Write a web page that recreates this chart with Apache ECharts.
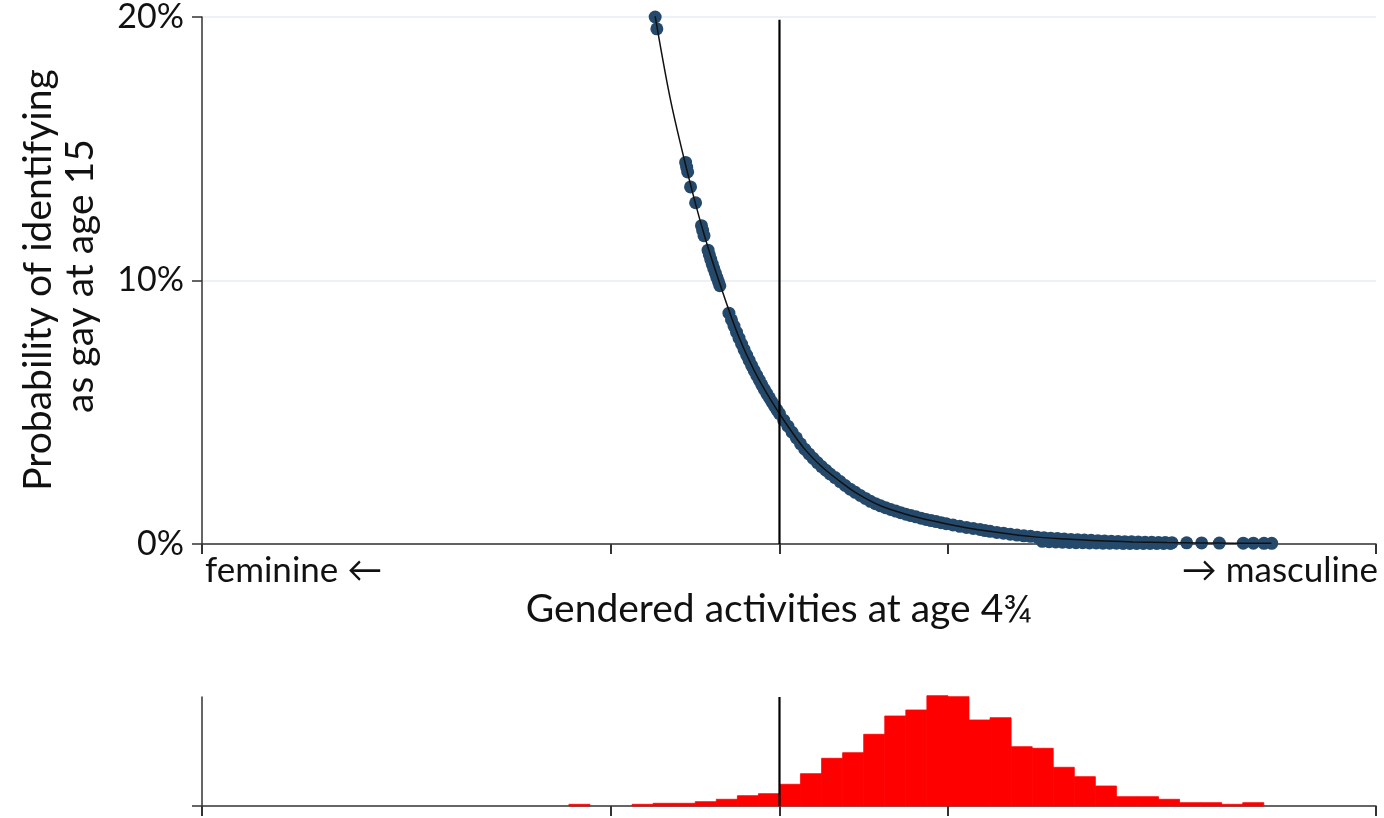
<!DOCTYPE html>
<html>
<head>
<meta charset="utf-8">
<script src="https://cdn.jsdelivr.net/npm/echarts@6/dist/echarts.min.js"></script>
<style>
html,body{margin:0;padding:0;background:#fff;}
#c{width:1384px;height:818px;}
</style>
</head>
<body>
<div id="c"></div>
<script>
// ---- data ----
// x: gendered-activities score (SD units, 0 = vertical reference line)
const xRange = [-3.428, 3.541];
const xTickValues = [-3.428, -1, 0, 1, 3.541];
const yTickValues = [0, 10, 20];
const yLabels = ['0%', '10%', '20%'];

// individual predicted probabilities (%)
const dotX = [-0.738, -0.728,
  -0.557, -0.551, -0.545, -0.528, -0.498, -0.463, -0.456, -0.448, -0.424, -0.416, -0.408, -0.399, -0.390, -0.381, -0.372, -0.362, -0.354,
  -0.300, -0.285, -0.270, -0.255, -0.240, -0.225, -0.210, -0.195, -0.180, -0.165, -0.150, -0.135, -0.120, -0.105, -0.090, -0.075, -0.060, -0.045, -0.030, -0.015, 0.000,
  0.025, 0.050, 0.075, 0.100, 0.125, 0.150, 0.175, 0.200, 0.225, 0.250, 0.275, 0.300, 0.330, 0.360, 0.390, 0.420, 0.450, 0.480, 0.510, 0.540,
  0.570, 0.600, 0.630, 0.660, 0.690, 0.720, 0.750, 0.780, 0.810, 0.840, 0.870, 0.900, 0.930, 0.960, 0.990, 1.030, 1.070, 1.110, 1.150, 1.190,
  1.220, 1.250, 1.290, 1.330, 1.370, 1.410, 1.450, 1.490, 1.530, 1.570, 1.610, 1.650, 1.690, 1.730, 1.770, 1.810, 1.850, 1.890, 1.930, 1.970,
  2.010, 2.050, 2.090, 2.130, 2.170, 2.210, 2.250, 2.290, 2.330,
  1.560, 1.600, 1.640, 1.680, 1.720, 1.760, 1.800, 1.840, 1.880, 1.920, 1.960, 2.000, 2.040, 2.080, 2.120, 2.160, 2.200, 2.240, 2.280, 2.320,
  2.417, 2.506, 2.611, 2.753, 2.813, 2.876, 2.922];
const dotY = [20.0, 19.55,
  14.48, 14.30, 14.12, 13.55, 12.95, 12.08, 11.90, 11.70, 11.15, 10.97, 10.80, 10.62, 10.45, 10.28, 10.12, 9.95, 9.80,
  8.76, 8.51, 8.27, 8.04, 7.81, 7.59, 7.38, 7.17, 6.97, 6.77, 6.58, 6.40, 6.22, 6.04, 5.87, 5.71, 5.55, 5.39, 5.24, 5.09, 4.95,
  4.70, 4.47, 4.24, 4.03, 3.80, 3.60, 3.42, 3.25, 3.09, 2.94, 2.80, 2.66, 2.52, 2.37, 2.22, 2.08, 1.96, 1.84, 1.73, 1.62,
  1.53, 1.45, 1.38, 1.31, 1.25, 1.19, 1.13, 1.08, 1.03, 0.98, 0.93, 0.89, 0.85, 0.81, 0.77, 0.72, 0.67, 0.63, 0.59, 0.55,
  0.51, 0.48, 0.44, 0.41, 0.37, 0.34, 0.31, 0.29, 0.26, 0.24, 0.22, 0.21, 0.19, 0.175, 0.16, 0.15, 0.14, 0.125, 0.115, 0.105,
  0.098, 0.09, 0.083, 0.076, 0.07, 0.065, 0.06, 0.055, 0.05,
  0.10, 0.09, 0.08, 0.07, 0.06, 0.05, 0.05, 0.04, 0.04, 0.03, 0.03, 0.03, 0.02, 0.02, 0.02, 0.02, 0.02, 0.02, 0.02, 0.02,
  0.045, 0.04, 0.035, 0.03, 0.03, 0.025, 0.025];

// fitted curve (%)
const curveX = [-0.74, -0.65, -0.55, -0.45, -0.35, -0.25, -0.15, -0.05, 0.05, 0.15, 0.25, 0.35, 0.45, 0.60, 0.75, 0.90, 1.10, 1.30, 1.50, 1.70, 1.90, 2.10, 2.30, 2.50, 2.70, 2.92];
const curveY = [20.1, 16.95, 14.2, 11.8, 9.8, 8.0, 6.58, 5.45, 4.47, 3.6, 2.94, 2.42, 1.96, 1.45, 1.13, 0.89, 0.63, 0.44, 0.28, 0.19, 0.12, 0.08, 0.055, 0.04, 0.03, 0.025];

// histogram of the score (bin lower edges, width 0.125; relative frequency)
const binWidth = 0.125;
const histX0 = [-1.25, -0.875, -0.75, -0.625, -0.5, -0.375, -0.25, -0.125,
  0, 0.125, 0.25, 0.375, 0.5, 0.625, 0.75, 0.875, 1.0, 1.125, 1.25, 1.375, 1.5, 1.625, 1.75, 1.875, 2.0, 2.125, 2.25, 2.375, 2.5, 2.625, 2.75];
const histH = [1.7, 1.7, 2.7, 2.7, 4.3, 6.7, 10.3, 12.3,
  21.7, 32.3, 47.7, 53.3, 71.7, 90, 96, 110.3, 109.3, 86, 88.3, 59.3, 57.7, 38.7, 29.3, 20, 9.3, 9.3, 6.7, 3.3, 3.3, 1.7, 3.3];
const histMax = 109;

// ---- chart ----
const FONT = 'Lato';
const chart = echarts.init(document.getElementById('c'), null, {renderer: 'canvas'});

const dots = dotX.map((x, i) => [x, dotY[i]]);
const curve = curveX.map((x, i) => [x, curveY[i]]);
const hist = histX0.map((x, i) => [x, x + binWidth, histH[i]]);

const axisLineStyle = {color: '#333', width: 1.5};

chart.setOption({
  animation: false,
  backgroundColor: '#fff',
  grid: [
    {left: 202, top: 16.5, width: 1174, height: 527.5},
    {left: 202, top: 697, width: 1174, height: 109}
  ],
  xAxis: [
    {gridIndex: 0, type: 'value', min: xRange[0], max: xRange[1],
     axisLine: {onZero: false, lineStyle: axisLineStyle},
     axisTick: {show: true, length: 10, inside: false, customValues: xTickValues, lineStyle: {color: '#333', width: 2}},
     axisLabel: {show: false}, splitLine: {show: false}},
    {gridIndex: 1, type: 'value', min: xRange[0], max: xRange[1],
     axisLine: {onZero: false, lineStyle: axisLineStyle},
     axisTick: {show: true, length: 10, customValues: xTickValues, lineStyle: {color: '#333', width: 2}},
     axisLabel: {show: false}, splitLine: {show: false}}
  ],
  yAxis: [
    {gridIndex: 0, type: 'value', min: 0, max: 20, interval: 5,
     axisLine: {show: true, onZero: false, lineStyle: axisLineStyle},
     axisTick: {show: true, length: 10, customValues: yTickValues, lineStyle: {color: '#333', width: 1.5}},
     axisLabel: {customValues: yTickValues, formatter: v => yLabels[yTickValues.indexOf(v)] || '', fontFamily: FONT, fontSize: 34, color: '#111', margin: 18},
     splitLine: {show: true, lineStyle: {color: '#e4edf0', width: 1.5}}},
    {gridIndex: 1, type: 'value', min: 0, max: histMax,
     axisLine: {show: true, onZero: false, lineStyle: axisLineStyle},
     axisTick: {show: true, length: 10, customValues: [0], lineStyle: {color: '#333', width: 1.5}},
     axisLabel: {show: false}, splitLine: {show: false}}
  ],
  series: [
    {type: 'scatter', xAxisIndex: 0, yAxisIndex: 0, data: dots, symbol: 'circle', symbolSize: 13,
     itemStyle: {color: '#24496b', opacity: 1}, z: 2},
    {type: 'line', xAxisIndex: 0, yAxisIndex: 0, data: curve, smooth: 0.3, showSymbol: false,
     lineStyle: {color: '#111', width: 1.5}, z: 3},
    {type: 'line', xAxisIndex: 0, yAxisIndex: 0, data: [[0, 0], [0, 19.9]], showSymbol: false,
     lineStyle: {color: '#000', width: 2.2}, z: 4},
    {type: 'custom', xAxisIndex: 1, yAxisIndex: 1, data: hist,
     encode: {x: [0, 1], y: 2},
     renderItem: function (params, api) {
       const p0 = api.coord([api.value(0), api.value(2)]);
       const p1 = api.coord([api.value(1), 0]);
       return {type: 'rect', shape: {x: p0[0], y: p0[1], width: p1[0] - p0[0], height: p1[1] - p0[1]},
               style: {fill: '#ff0000', stroke: '#ff0000', lineWidth: 0.8}};
     }, z: 2},
    {type: 'line', xAxisIndex: 1, yAxisIndex: 1, data: [[0, 0], [0, histMax]], showSymbol: false,
     lineStyle: {color: '#000', width: 2.2}, z: 4}
  ],
  graphic: [
    {type: 'text', left: 205, top: 553, style: {text: 'feminine ←', font: '35px ' + FONT, fill: '#111'}},
    {type: 'text', right: 6, top: 553, style: {text: '→ masculine', font: '35px ' + FONT, fill: '#111'}},
    {type: 'text', x: 779, y: 609, style: {text: 'Gendered activities at age 4¾', font: '39px ' + FONT, fill: '#111', align: 'center', verticalAlign: 'middle'}},
    {type: 'text', x: 38, y: 280, rotation: Math.PI / 2, style: {text: 'Probability of identifying', font: '39px ' + FONT, fill: '#111', align: 'center', verticalAlign: 'middle'}},
    {type: 'text', x: 80, y: 276, rotation: Math.PI / 2, style: {text: 'as gay at age 15', font: '39px ' + FONT, fill: '#111', align: 'center', verticalAlign: 'middle'}}
  ]
});
</script>
</body>
</html>
